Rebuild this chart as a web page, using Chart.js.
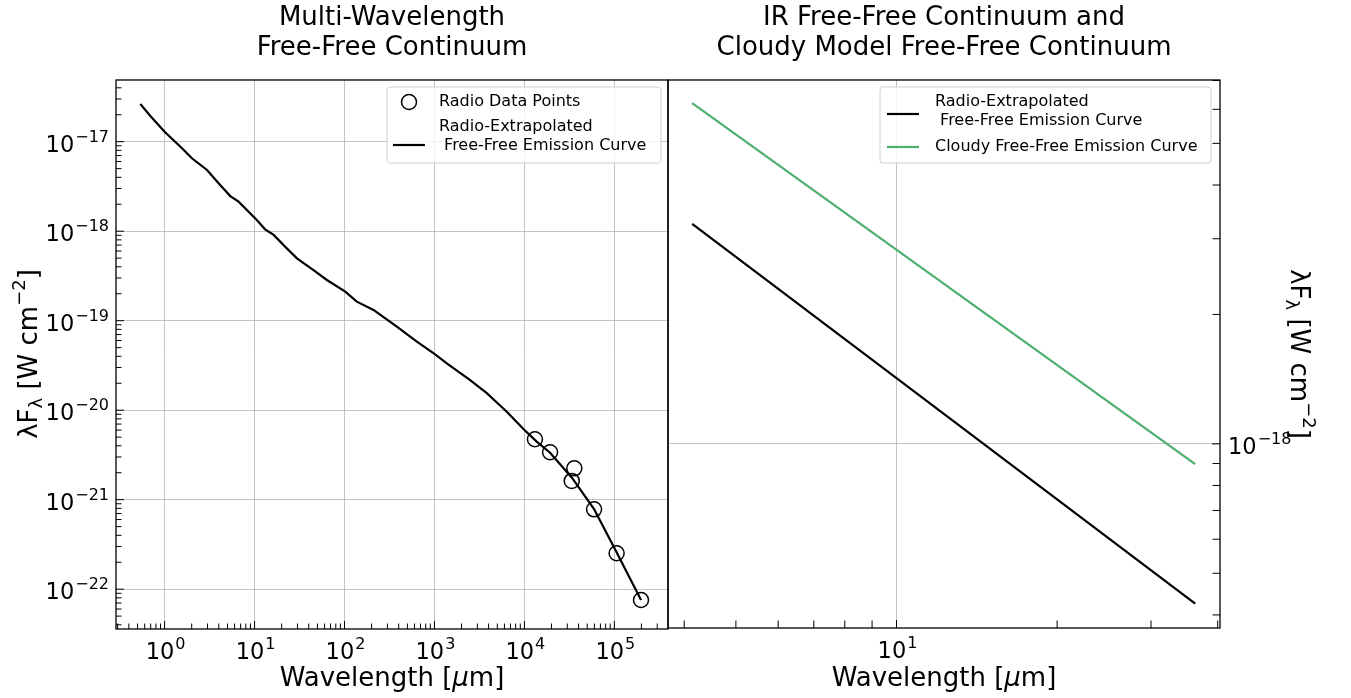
<!DOCTYPE html>
<html>
<head>
<meta charset="utf-8">
<script src="https://cdn.jsdelivr.net/npm/chart.js@4.4.1/dist/chart.umd.min.js"></script>
<style>
  html, body { margin: 0; padding: 0; background: #fff; }
  #wrap { position: relative; width: 1351px; height: 698px; }
  canvas { position: absolute; left: 0; top: 0; }
</style>
</head>
<body>
<div id="wrap">
  <canvas id="left" width="1351" height="698"></canvas>
  <canvas id="right" width="1351" height="698"></canvas>
</div>
<script>
// ── Data ──────────────────────────────────────────────────
// Left panel: radio-extrapolated free-free curve
const curveWavelength = [0.537, 0.694, 1.0, 1.56, 2.01, 2.96, 3.98, 5.37, 6.64, 10.2, 13.1, 16.3,
  21.9, 29.6, 45.2, 63.7, 102, 137, 210, 382, 637, 1000, 1373, 2494, 3820, 6370, 10000,
  13700, 19300, 33900, 59500, 107000, 198000];
const curveFlux = [2.64e-17, 1.94e-17, 1.29e-17, 8.44e-18, 6.53e-18, 4.83e-18, 3.43e-18, 2.47e-18,
  2.14e-18, 1.39e-18, 1.05e-18, 9.08e-19, 6.71e-19, 4.98e-19, 3.68e-19, 2.85e-19, 2.11e-19,
  1.63e-19, 1.32e-19, 8.57e-20, 5.82e-20, 4.25e-20, 3.34e-20, 2.17e-20, 1.55e-20, 9.62e-21,
  6.01e-21, 4.45e-21, 3.35e-21, 1.75e-21, 7.87e-22, 2.54e-22, 7.57e-23];

// Left panel: radio data points
const radioWavelength = [13100, 19300, 35900, 33600, 59500, 106000, 198000];
const radioFlux = [4.73e-21, 3.39e-21, 2.24e-21, 1.62e-21, 7.81e-22, 2.52e-22, 7.57e-23];

// Right panel: IR range
const irWavelength = [4.14, 36.3];
const irRadioFlux = [3.25e-18, 4.25e-19];
const irCloudyFlux = [6.2e-18, 8.97e-19];

// Tick labels (powers of ten)
const leftXTickExp = [0, 1, 2, 3, 4, 5];
const leftYTickExp = [-17, -18, -19, -20, -21, -22];
const rightXTickExp = [1];
const rightYTickExp = [-18];

// ── Styling ───────────────────────────────────────────────
const FONT = "'DejaVu Sans', sans-serif";
const gridColor = 'rgba(176,176,176,0.75)';
const cloudyGreen = '#4dae70';

function minorTicks(min, max) {
  const out = [];
  for (let e = Math.floor(Math.log10(min)); e <= Math.ceil(Math.log10(max)); e++) {
    for (let m = 2; m <= 9; m++) {
      const v = m * Math.pow(10, e);
      if (v >= min && v <= max) out.push(v);
    }
  }
  return out;
}

function logAxis(min, max, exps, position) {
  const decades = exps.map((e) => Math.pow(10, e));
  return {
    type: 'logarithmic',
    position,
    min,
    max,
    afterBuildTicks: (s) => { s.ticks = decades.map((v) => ({ value: v, major: true })); },
    afterFit: (s) => { if (s.isHorizontal()) s.height = 0; else s.width = 0; },
    ticks: { display: false },
    grid: { color: gridColor, lineWidth: 1, drawTicks: false },
    border: { display: false },
  };
}

// draws 10^exp with superscript; y is the baseline of "10"
function drawPow10(ctx, exp, x, y, align) {
  const sup = String(exp).replace('-', '\u2212');
  ctx.font = `22.5px ${FONT}`;
  const wb = ctx.measureText('10').width;
  ctx.font = `16px ${FONT}`;
  const ws = ctx.measureText(sup).width;
  const w = wb + ws + 1;
  const x0 = align === 'center' ? x - w / 2 : align === 'right' ? x - w : x;
  ctx.textAlign = 'left';
  ctx.textBaseline = 'alphabetic';
  ctx.font = `22.5px ${FONT}`;
  ctx.fillText('10', x0, y);
  ctx.font = `16px ${FONT}`;
  ctx.fillText(sup, x0 + wb + 1, y - 10);
}

// rich text made of segments {t, f, dy, it}; centred on x
function drawRich(ctx, segs, x, y, rot) {
  ctx.save();
  ctx.translate(x, y);
  ctx.rotate(rot || 0);
  ctx.textAlign = 'left';
  ctx.textBaseline = 'alphabetic';
  let total = 0;
  segs.forEach((s) => {
    ctx.font = `${s.it ? 'italic ' : ''}${s.f}px ${FONT}`;
    s.w = ctx.measureText(s.t).width;
    total += s.w;
  });
  let cx = -total / 2;
  segs.forEach((s) => {
    ctx.font = `${s.it ? 'italic ' : ''}${s.f}px ${FONT}`;
    ctx.fillText(s.t, cx, s.dy || 0);
    cx += s.w;
  });
  ctx.restore();
}

const fluxLabel = [
  { t: 'λF', f: 26 },
  { t: 'λ', f: 18, dy: 5 },
  { t: ' [W cm', f: 26 },
  { t: '\u22122', f: 18, dy: -12 },
  { t: ']', f: 26 },
];
const waveLabel = [
  { t: 'Wavelength [', f: 26 },
  { t: 'μ', f: 26, it: true },
  { t: 'm]', f: 26 },
];

function drawLegend(ctx, box, rows) {
  ctx.save();
  const r = 3;
  ctx.beginPath();
  ctx.roundRect(box.x, box.y, box.w, box.h, r);
  ctx.fillStyle = 'rgba(255,255,255,0.8)';
  ctx.fill();
  ctx.strokeStyle = '#d0d0d0';
  ctx.lineWidth = 1;
  ctx.stroke();
  ctx.font = `16px ${FONT}`;
  ctx.fillStyle = '#000';
  ctx.textAlign = 'left';
  ctx.textBaseline = 'middle';
  rows.forEach((row) => {
    if (row.marker) {
      ctx.beginPath();
      ctx.arc(row.hx + 16, row.hy, 7.5, 0, Math.PI * 2);
      ctx.strokeStyle = '#000';
      ctx.lineWidth = 1.5;
      ctx.stroke();
    } else {
      ctx.beginPath();
      ctx.moveTo(row.hx, row.hy);
      ctx.lineTo(row.hx + 32, row.hy);
      ctx.strokeStyle = row.color;
      ctx.lineWidth = 2.2;
      ctx.stroke();
    }
    row.lines.forEach((l) => ctx.fillText(l.t, row.tx, l.y));
  });
  ctx.restore();
}

function panelPlugin(cfg) {
  return {
    id: 'panel',
    afterDraw(chart) {
      const { ctx, chartArea: a } = chart;
      const xs = chart.scales.x;
      const ys = chart.scales.y;
      ctx.save();
      // inward ticks
      ctx.strokeStyle = '#000';
      ctx.lineWidth = 1;
      ctx.beginPath();
      const xMaj = cfg.xExp.map((e) => Math.pow(10, e));
      const yMaj = cfg.yExp.map((e) => Math.pow(10, e));
      const xMin = minorTicks(xs.min, xs.max);
      const yMin = minorTicks(ys.min, ys.max);
      const tickX = (v, len) => {
        const px = xs.getPixelForValue(v);
        ctx.moveTo(px, a.bottom);
        ctx.lineTo(px, a.bottom - len);
      };
      const tickY = (v, len) => {
        const py = ys.getPixelForValue(v);
        if (cfg.yRight) { ctx.moveTo(a.right, py); ctx.lineTo(a.right - len, py); }
        else { ctx.moveTo(a.left, py); ctx.lineTo(a.left + len, py); }
      };
      xMaj.forEach((v) => tickX(v, 8));
      xMin.forEach((v) => tickX(v, cfg.minorLen));
      yMaj.forEach((v) => tickY(v, 8));
      yMin.forEach((v) => tickY(v, cfg.minorLen));
      ctx.stroke();

      // spines
      ctx.lineWidth = 1.3;
      ctx.strokeRect(a.left, a.top, a.right - a.left, a.bottom - a.top);

      // tick labels
      ctx.fillStyle = '#000';
      cfg.xExp.forEach((e) => drawPow10(ctx, e, xs.getPixelForValue(Math.pow(10, e)) + 1, a.bottom + 30, 'center'));
      cfg.yExp.forEach((e) => {
        const py = ys.getPixelForValue(Math.pow(10, e)) + 10;
        if (cfg.yRight) drawPow10(ctx, e, a.right + 8, py, 'left');
        else drawPow10(ctx, e, a.left - 7, py, 'right');
      });

      // titles and axis labels
      const cx = (a.left + a.right) / 2;
      ctx.font = `26px ${FONT}`;
      ctx.textAlign = 'center';
      ctx.textBaseline = 'alphabetic';
      ctx.fillText(cfg.title[0], cx, 25);
      ctx.fillText(cfg.title[1], cx, 55);
      drawRich(ctx, waveLabel, cx, 686, 0);
      if (cfg.yRight) drawRich(ctx, fluxLabel, 1291, 354, Math.PI / 2);
      else drawRich(ctx, fluxLabel, 37, 354, -Math.PI / 2);

      drawLegend(ctx, cfg.legendBox, cfg.legendRows);
      ctx.restore();
    },
  };
}

function makeChart(id, datasets, scales, padding, cfg) {
  return new Chart(document.getElementById(id), {
    type: 'scatter',
    data: { datasets },
    options: {
      responsive: false,
      animation: false,
      devicePixelRatio: 1,
      layout: { padding },
      scales,
      plugins: { legend: { display: false }, tooltip: { enabled: false } },
    },
    plugins: [panelPlugin(cfg)],
  });
}

// ── Left panel ────────────────────────────────────────────
makeChart('left', [
  {
    label: 'Radio-Extrapolated Free-Free Emission Curve',
    data: curveWavelength.map((x, i) => ({ x, y: curveFlux[i] })),
    showLine: true,
    borderColor: '#000',
    borderWidth: 2.2,
    pointRadius: 0,
    tension: 0,
  },
  {
    label: 'Radio Data Points',
    data: radioWavelength.map((x, i) => ({ x, y: radioFlux[i] })),
    pointStyle: 'circle',
    pointRadius: 7.5,
    borderColor: '#000',
    borderWidth: 1.5,
    backgroundColor: 'rgba(0,0,0,0)',
  },
], {
  x: logAxis(0.288, 3.95e5, leftXTickExp, 'bottom'),
  y: logAxis(3.59e-23, 4.89e-17, leftYTickExp, 'left'),
}, { left: 116, top: 80, right: 1351 - 668, bottom: 698 - 629 }, {
  xExp: leftXTickExp,
  yExp: leftYTickExp,
  yRight: false,
  minorLen: 5.5,
  title: ['Multi-Wavelength', 'Free-Free Continuum'],
  legendBox: { x: 387, y: 87, w: 274, h: 76 },
  legendRows: [
    { marker: true, hx: 393, hy: 102, tx: 439, lines: [{ t: 'Radio Data Points', y: 102 }] },
    { color: '#000', hx: 393, hy: 145, tx: 439, lines: [{ t: 'Radio-Extrapolated', y: 127 }, { t: ' Free-Free Emission Curve', y: 146 }] },
  ],
});

// ── Right panel ───────────────────────────────────────────
makeChart('right', [
  {
    label: 'Radio-Extrapolated Free-Free Emission Curve',
    data: irWavelength.map((x, i) => ({ x, y: irRadioFlux[i] })),
    showLine: true,
    borderColor: '#000',
    borderWidth: 2.2,
    pointRadius: 0,
  },
  {
    label: 'Cloudy Free-Free Emission Curve',
    data: irWavelength.map((x, i) => ({ x, y: irCloudyFlux[i] })),
    showLine: true,
    borderColor: cloudyGreen,
    borderWidth: 2.2,
    pointRadius: 0,
  },
], {
  x: logAxis(3.73, 40.4, rightXTickExp, 'bottom'),
  y: logAxis(3.73e-19, 7.02e-18, rightYTickExp, 'right'),
}, { left: 668, top: 80, right: 1351 - 1220, bottom: 698 - 628 }, {
  xExp: rightXTickExp,
  yExp: rightYTickExp,
  yRight: true,
  minorLen: 7.5,
  title: ['IR Free-Free Continuum and', 'Cloudy Model Free-Free Continuum'],
  legendBox: { x: 880, y: 87, w: 331, h: 76 },
  legendRows: [
    { color: '#000', hx: 887, hy: 114, tx: 935, lines: [{ t: 'Radio-Extrapolated', y: 102 }, { t: ' Free-Free Emission Curve', y: 121 }] },
    { color: cloudyGreen, hx: 887, hy: 147, tx: 935, lines: [{ t: 'Cloudy Free-Free Emission Curve', y: 147 }] },
  ],
});
</script>
</body>
</html>
